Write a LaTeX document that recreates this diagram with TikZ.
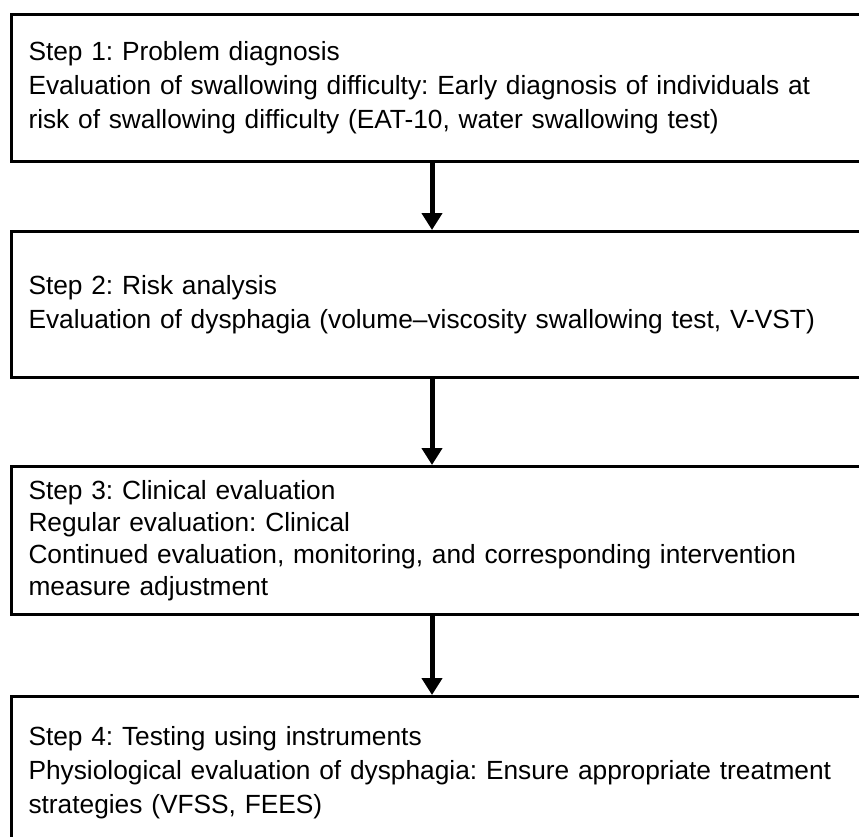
\documentclass[tikz,border=0pt]{standalone}
\usepackage{fontspec}
\setmainfont{Liberation Sans}
\usetikzlibrary{arrows.meta}
\newcommand{\boxfontA}{\fontsize{26.3}{34}\selectfont\frenchspacing\spaceskip=10.8pt plus 2pt minus 1pt\relax}
\newcommand{\boxfontB}{\fontsize{26.3}{32}\selectfont\frenchspacing\spaceskip=10.8pt plus 2pt minus 1pt\relax}
\begin{document}
\begin{tikzpicture}[x=1pt,y=1pt,
  stepbox/.style={draw, line width=3pt, rectangle, anchor=north west,
    text width=818pt, inner xsep=17pt, inner ysep=0pt, align=left,
    font=\boxfontA},
  arr/.style={line width=5pt, -{Triangle[width=20pt,length=17pt]}}]
\fill[white] (0,0) rectangle (859,-836);
\useasboundingbox (0,0) rectangle (859,-836);
\clip (0,0) rectangle (859,-836);
\node[stepbox, minimum height=147pt] (b1) at (10,-13)
  {Step 1: Problem diagnosis\\Evaluation of swallowing difficulty: Early diagnosis of individuals at\\risk of swallowing difficulty (EAT-10, water swallowing test)};
\node[stepbox, minimum height=146pt] (b2) at (10,-230)
  {Step 2: Risk analysis\\Evaluation of dysphagia (volume--viscosity swallowing test, V-VST)};
\node[stepbox, minimum height=148pt, font=\boxfontB] (b3) at (10,-465)
  {Step 3: Clinical evaluation\\Regular evaluation: Clinical\\Continued evaluation, monitoring, and corresponding intervention\\measure adjustment};
\node[stepbox, minimum height=152pt] (b4) at (10,-695)
  {Step 4: Testing using instruments\\Physiological evaluation of dysphagia: Ensure appropriate treatment\\strategies (VFSS, FEES)};
\coordinate (ax) at (432,0);
\draw[arr] (b1.south -| ax) -- (b2.north -| ax);
\draw[arr] (b2.south -| ax) -- (b3.north -| ax);
\draw[arr] (b3.south -| ax) -- (b4.north -| ax);
\end{tikzpicture}
\end{document}
